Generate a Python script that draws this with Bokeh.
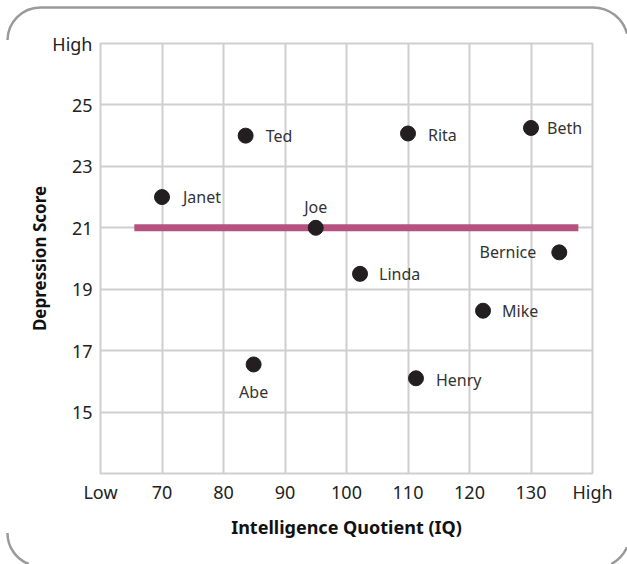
import urllib.parse
from bokeh.plotting import figure
from bokeh.models import ColumnDataSource, FixedTicker, LabelSet, Range1d
from bokeh.embed import file_html
from bokeh.resources import INLINE
from bokeh.core.properties import value

# ---- data ----
names = ["Abe", "Janet", "Ted", "Joe", "Linda", "Rita", "Henry", "Mike", "Beth", "Bernice"]
iq = [84.9, 70.0, 83.6, 95.0, 102.2, 110.0, 111.3, 122.2, 130.0, 134.6]
depression = [16.55, 22.0, 24.0, 21.0, 19.5, 24.07, 16.1, 18.3, 24.25, 20.2]

mean_line_iq = [65.5, 137.7]
mean_line_score = [21, 21]

x_ticks = [60, 70, 80, 90, 100, 110, 120, 130, 140]
x_tick_labels = ["Low", "70", "80", "90", "100", "110", "120", "130", "High"]
y_ticks = [13, 15, 17, 19, 21, 23, 25, 27]
y_tick_labels = ["", "15", "17", "19", "21", "23", "25", "High"]

x_title = "Intelligence Quotient (IQ)"
y_title = "Depression Score"

# ---- label placement (screen px) ----
label_dx = {"Abe": 0, "Janet": 21, "Ted": 20, "Joe": 0, "Linda": 19, "Rita": 20,
            "Henry": 20, "Mike": 19, "Beth": 16, "Bernice": -23}
label_dy = {"Abe": -28, "Janet": 0, "Ted": 0, "Joe": 21, "Linda": 0, "Rita": -2,
            "Henry": -2, "Mike": 0, "Beth": 0, "Bernice": 0}
label_align = {"Abe": "center", "Joe": "center", "Bernice": "right"}

W, H = 627, 564
FONT = "Noto Sans"

p = figure(width=W, height=H, output_backend="svg", toolbar_location=None,
           x_range=Range1d(60, 140), y_range=Range1d(13, 27),
           min_border_left=100, min_border_right=35, min_border_top=43, min_border_bottom=91)
p.background_fill_color = "white"
p.border_fill_color = None
p.outline_line_color = "#cfcfcf"
p.outline_line_width = 2

# decorative rounded corner frame drawn as page background behind the transparent border
frame_svg = (
    "<svg xmlns='http://www.w3.org/2000/svg' width='627' height='564'>"
    "<g fill='none' stroke='#9a9a9a' stroke-width='2.5'>"
    "<path d='M 7.5 40 A 33 33 0 0 1 40 7.5 L 593 7.5 A 35 35 0 0 1 627 33.7'/>"
    "<path d='M 7.5 533 A 33 33 0 0 0 28.7 564'/>"
    "<path d='M 611.2 564 A 35 35 0 0 0 627 547.2'/>"
    "</g></svg>"
)
p.styles = {
    "background-color": "white",
    "background-image": 'url("data:image/svg+xml,' + urllib.parse.quote(frame_svg) + '")',
    "background-repeat": "no-repeat",
}

for g, t in ((p.xgrid, x_ticks), (p.ygrid, y_ticks)):
    g.ticker = FixedTicker(ticks=t)
    g.grid_line_color = "#cfcfcf"
    g.grid_line_width = 2

p.xaxis.ticker = FixedTicker(ticks=x_ticks)
p.xaxis.major_label_overrides = {t: l for t, l in zip(x_ticks, x_tick_labels)}
p.yaxis.ticker = FixedTicker(ticks=y_ticks)
p.yaxis.major_label_overrides = {t: l for t, l in zip(y_ticks, y_tick_labels)}

for ax in (p.xaxis[0], p.yaxis[0]):
    ax.axis_line_color = None
    ax.major_tick_line_color = None
    ax.minor_tick_line_color = None
    ax.major_tick_in = 0
    ax.major_tick_out = 0
    ax.major_label_text_font = FONT
    ax.major_label_text_font_size = "18px"
    ax.major_label_text_color = "#222222"
    ax.axis_label_text_font = FONT
    ax.axis_label_text_font_style = "bold"
    ax.axis_label_text_color = "#111111"

p.xaxis.major_label_standoff = 6
p.yaxis.major_label_standoff = 8
p.xaxis.axis_label = x_title
p.yaxis.axis_label = y_title
p.xaxis.axis_label_text_font_size = "18px"
p.yaxis.axis_label_text_font_size = "17px"
p.xaxis.axis_label_standoff = 8
p.yaxis.axis_label_standoff = -2

p.line(mean_line_iq, mean_line_score, line_color="#b5527f", line_width=7, line_cap="butt")

src = ColumnDataSource(dict(
    x=iq, y=depression, name=names,
    dx=[label_dx[n] for n in names],
    dy=[label_dy[n] for n in names],
    align=[label_align.get(n, "left") for n in names],
))
p.scatter("x", "y", source=src, size=15, fill_color="#231f20", line_color="#231f20")

labels = LabelSet(x="x", y="y", text="name", source=src, x_offset="dx", y_offset="dy",
                  text_align="align", text_baseline="middle",
                  text_font=value(FONT), text_font_size="16px", text_color="#333333")
p.add_layout(labels)

open("out.html", "w").write(file_html(p, INLINE))
